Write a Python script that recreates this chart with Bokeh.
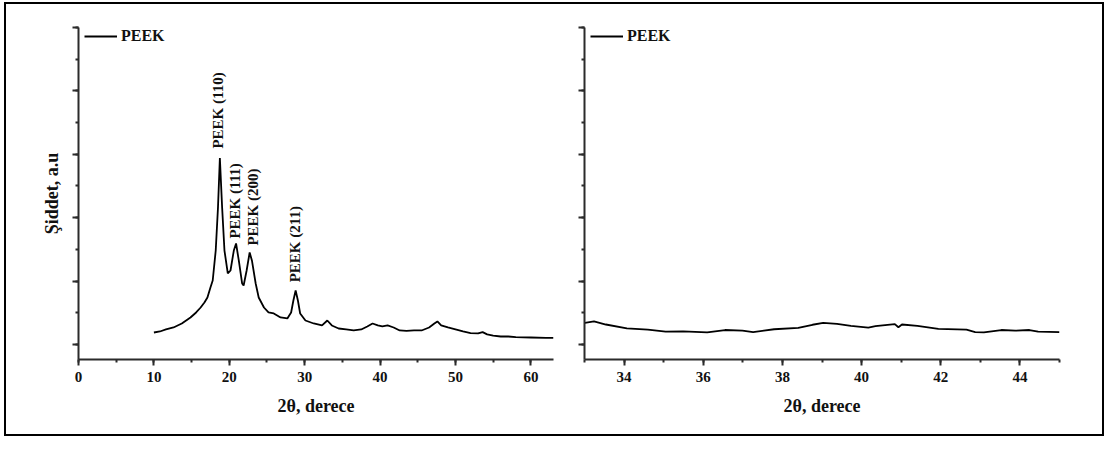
from bokeh.plotting import figure
from bokeh.layouts import row
from bokeh.models import Range1d, Legend, LegendItem, SingleIntervalTicker, ColumnDataSource
from bokeh.core.properties import value
from bokeh.embed import file_html
from bokeh.resources import INLINE

# ---------------- data ----------------
two_theta_full = [10.0, 10.8, 11.6, 12.6, 13.7, 14.85, 15.6, 16.2, 16.7, 17.1, 17.5, 17.8, 18.2, 18.5,
                  18.75, 19.05, 19.36, 19.8, 20.16, 20.6, 20.9, 21.26, 21.7, 21.9, 22.3, 22.7, 23.0,
                  23.5, 23.9, 24.6, 25.2, 25.9, 26.8, 27.7, 28.2, 28.5, 28.8, 29.1, 29.4, 30.1, 31.2,
                  32.3, 33.0, 33.6, 34.5, 35.5, 36.5, 37.5, 38.3, 39.0, 39.7, 40.3, 41.0, 41.8, 42.6,
                  43.5, 44.5, 45.5, 46.5, 47.2, 47.6, 48.1, 49.0, 50.0, 51.0, 52.0, 53.0, 53.6, 54.2,
                  55.0, 56.0, 57.0, 58.0, 60.0, 62.0, 63.0]
intensity_full = [189, 205, 237, 268, 331, 426, 505, 583, 662, 741, 900, 1009, 1482, 2160,
                  2940, 2160, 1482, 1120, 1167, 1482, 1593, 1325, 962, 930, 1167, 1451, 1325,
                  962, 741, 583, 505, 489, 426, 410, 505, 694, 852, 694, 489, 378, 331,
                  300, 378, 300, 252, 237, 221, 237, 284, 331, 300, 284, 300, 268, 221,
                  215, 221, 221, 268, 331, 363, 300, 268, 237, 205, 180, 174, 195, 160,
                  140, 126, 126, 115, 110, 105, 105]

two_theta_zoom = [33.01, 33.24, 33.54, 34.07, 34.6, 35.05, 35.49, 36.1, 36.55, 36.99, 37.26, 37.79,
                  38.4, 38.76, 39.03, 39.38, 39.73, 40.17, 40.35, 40.84, 40.93, 41.02, 41.41, 41.94,
                  42.65, 42.87, 43.09, 43.53, 43.88, 44.24, 44.46, 45.0]
intensity_zoom = [342, 364, 315, 255, 233, 202, 206, 191, 228, 220, 196, 240,
                  262, 311, 342, 326, 293, 266, 289, 320, 271, 315, 293, 245,
                  233, 196, 191, 228, 218, 228, 202, 196]

peak_labels = ["PEEK (110)", "PEEK (111)", "PEEK (200)", "PEEK (211)"]
peak_label_x = [18.45, 20.82, 23.08, 28.78]
peak_label_y = [3090, 1670, 1560, 980]

series_name = "PEEK"
x_title = "2θ, derece"
y_title = "Şiddet, a.u"

FONT = "Liberation Serif"
AXIS_COLOR = "#2b2b2b"


def style_axes(p, xinterval):
    p.grid.visible = False
    p.outline_line_color = None
    p.background_fill_color = "white"
    p.border_fill_color = "white"
    p.xaxis.ticker = SingleIntervalTicker(interval=xinterval, num_minor_ticks=2)
    p.yaxis.ticker = SingleIntervalTicker(interval=1000, num_minor_ticks=2)
    for ax in (p.xaxis[0], p.yaxis[0]):
        ax.axis_line_color = AXIS_COLOR
        ax.axis_line_width = 2
        ax.major_tick_line_color = AXIS_COLOR
        ax.major_tick_line_width = 2
        ax.minor_tick_line_color = AXIS_COLOR
        ax.minor_tick_line_width = 2
        ax.major_tick_in = 0
        ax.major_tick_out = 6
        ax.minor_tick_in = 0
        ax.minor_tick_out = 3
        ax.major_label_text_font = FONT
        ax.major_label_text_font_style = "bold"
        ax.major_label_text_font_size = "15px"
        ax.major_label_text_color = "#111111"
        ax.axis_label_text_font = FONT
        ax.axis_label_text_font_style = "bold"
        ax.axis_label_text_font_size = "18px"
        ax.axis_label_text_color = "#111111"
    # the intensity axis carries ticks but no tick labels
    p.yaxis.major_label_text_font_size = "0px"
    p.yaxis.major_label_text_color = None
    p.yaxis.major_label_standoff = 0
    p.xaxis.major_label_standoff = 6
    p.xaxis.axis_label = x_title
    p.xaxis.axis_label_standoff = 11


def add_legend(p, r):
    leg = Legend(items=[LegendItem(label=series_name, renderers=[r])],
                 location=(6, 314), margin=0, padding=3,
                 glyph_width=33, glyph_height=14, label_height=14,
                 label_standoff=4, border_line_color=None,
                 background_fill_alpha=0,
                 label_text_font=FONT, label_text_font_style="bold",
                 label_text_font_size="16px", label_text_color="#111111")
    p.add_layout(leg)


# ---------------- left panel ----------------
p1 = figure(width=559, height=430, x_range=Range1d(0, 63), y_range=Range1d(-237, 5000),
            output_backend="svg", toolbar_location=None,
            min_border_left=72, min_border_right=12, min_border_top=23, min_border_bottom=75)
style_axes(p1, 10)
p1.yaxis.axis_label = y_title
p1.yaxis.axis_label_standoff = 11
r1 = p1.line(two_theta_full, intensity_full, line_color="black", line_width=1.8)
add_legend(p1, r1)

lab_src = ColumnDataSource(dict(x=peak_label_x, y=peak_label_y, t=peak_labels))
p1.text(x="x", y="y", text="t", source=lab_src, angle=1.5708,
        text_align="left", text_baseline="middle",
        text_font=value(FONT), text_font_style="bold", text_font_size="15px",
        text_color="#111111")

# ---------------- right panel ----------------
p2 = figure(width=537, height=430, x_range=Range1d(33, 45), y_range=Range1d(-237, 5000),
            output_backend="svg", toolbar_location=None,
            min_border_left=19, min_border_right=43, min_border_top=23, min_border_bottom=75)
style_axes(p2, 2)
r2 = p2.line(two_theta_zoom, intensity_zoom, line_color="black", line_width=1.8)
add_legend(p2, r2)

layout = row(p1, p2, margin=(2, 0, 0, 4),
             styles={"border": "2px solid black", "background-color": "white"})

open("out.html", "w").write(file_html(layout, INLINE))
